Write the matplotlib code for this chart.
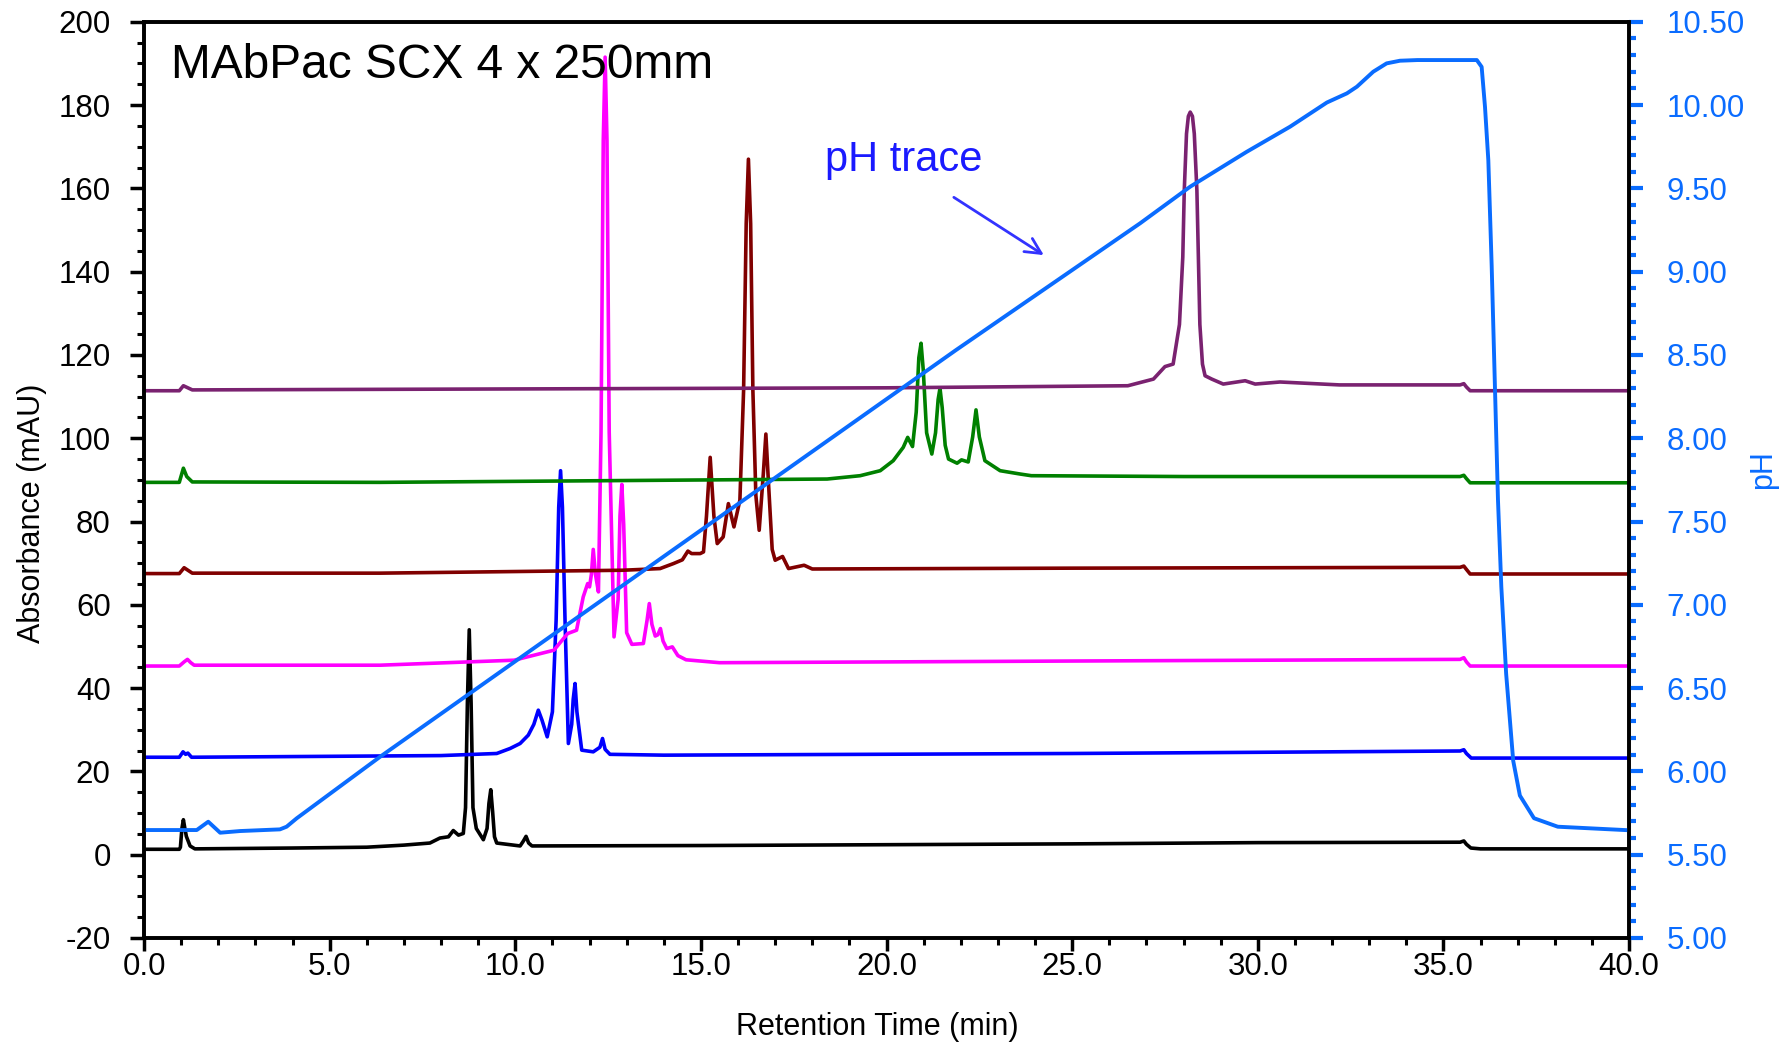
from matplotlib import pyplot as plt
from matplotlib.ticker import MultipleLocator, FormatStrFormatter

plt.rcParams['font.family'] = ['Liberation Sans', 'DejaVu Sans']
plt.rcParams['axes.unicode_minus'] = False

# retention time (min) / absorbance (mAU)
black_t = [0, 0.95, 0.98, 1.02, 1.06, 1.10, 1.14, 1.24, 1.37, 4.0, 6.0, 7.0, 7.7, 7.97, 8.2,
           8.33, 8.47, 8.6, 8.66, 8.71, 8.76, 8.81, 8.86, 8.95, 9.14, 9.24, 9.29, 9.34, 9.39,
           9.44, 9.5, 10.13, 10.22, 10.29, 10.36, 10.45, 15.0, 25.0, 30.0, 35.45, 35.55,
           35.62, 35.74, 36.0, 40.0]
black_v = [1.3, 1.3, 1.8, 6.3, 8.4, 6.3, 4.4, 2.1, 1.4, 1.6, 1.8, 2.3, 2.8, 4.0, 4.3,
           5.8, 4.7, 5.1, 11.3, 36.4, 54.0, 36.4, 11.3, 6.3, 3.6, 6.3, 12.3, 15.6, 10.3,
           4.3, 2.8, 2.1, 3.3, 4.4, 2.8, 2.1, 2.2, 2.6, 2.9, 3.0, 3.3,
           2.5, 1.6, 1.4, 1.4]

blue_t = [0, 0.95, 1.05, 1.12, 1.18, 1.28, 8.0, 9.5, 9.86, 10.13, 10.35, 10.5, 10.62, 10.72,
          10.86, 11.0, 11.1, 11.17, 11.22, 11.27, 11.34, 11.43, 11.52, 11.56, 11.61, 11.66,
          11.79, 12.1, 12.28, 12.35, 12.42, 12.55, 14.0, 25.0, 35.45, 35.55, 35.62, 35.75, 40.0]
blue_v = [23.4, 23.4, 24.7, 24.1, 24.4, 23.4, 23.8, 24.3, 25.5, 26.7, 28.7, 31.3, 34.7, 32.3,
          28.3, 34.3, 56.3, 83.4, 92.2, 83.4, 56.3, 26.7, 31.3, 37.3, 41.1, 34.3,
          25.1, 24.7, 25.8, 27.9, 25.3, 24.1, 23.9, 24.3, 24.9, 25.2, 24.3, 23.2, 23.2]

magenta_t = [0, 0.95, 1.08, 1.17, 1.26, 1.35, 6.36, 9.97, 11.04, 11.41, 11.65, 11.83, 11.95,
             12.0, 12.05, 12.10, 12.16, 12.24, 12.31, 12.37, 12.42, 12.47, 12.53, 12.66,
             12.77, 12.82, 12.87, 12.92, 13.0, 13.14, 13.45, 13.55, 13.61, 13.68, 13.77,
             13.84, 13.91, 13.98, 14.08, 14.23, 14.38, 14.6, 15.5, 25.0, 35.45, 35.55,
             35.62, 35.72, 40.0]
magenta_v = [45.3, 45.3, 46.3, 46.9, 46.1, 45.5, 45.5, 46.7, 49.1, 53.1, 53.9, 61.9, 65.1,
             64.3, 67.3, 73.3, 67.3, 63.1, 101.5, 171.5, 191.5, 171.5, 101.5, 52.3,
             61.3, 81.3, 88.9, 79.3, 53.3, 50.5, 50.7, 56.3, 60.3, 55.3, 52.5,
             52.8, 54.3, 51.3, 49.5, 49.9, 47.8, 46.8, 46.1, 46.5, 46.9, 47.3,
             46.3, 45.3, 45.3]

darkred_t = [0, 0.95, 1.08, 1.3, 6.35, 12.9, 13.9, 14.26, 14.5, 14.65, 14.75, 14.98, 15.07,
             15.15, 15.25, 15.35, 15.44, 15.6, 15.74, 15.89, 16.05, 16.15, 16.22, 16.28,
             16.34, 16.40, 16.48, 16.57, 16.68, 16.75, 16.82, 16.92, 17.0, 17.2, 17.36,
             17.78, 18.0, 25.0, 35.45, 35.55, 35.62, 35.72, 40.0]
darkred_v = [67.5, 67.5, 68.9, 67.6, 67.6, 68.3, 68.7, 69.9, 70.8, 72.9, 72.3, 72.3, 72.7,
             81.3, 95.4, 81.3, 74.7, 76.3, 84.3, 78.7, 85.1, 111.5, 151.5, 167.0,
             151.5, 111.5, 86.3, 77.9, 91.3, 101.0, 89.3, 73.3, 70.7, 71.6, 68.7,
             69.5, 68.6, 68.8, 69.0, 69.3, 68.5, 67.4, 67.4]

green_t = [0, 0.95, 1.06, 1.15, 1.3, 6.35, 18.4, 19.29, 19.83, 20.18, 20.45, 20.57, 20.70,
           20.80, 20.87, 20.93, 20.99, 21.08, 21.22, 21.32, 21.39, 21.44, 21.50, 21.58,
           21.67, 21.9, 22.02, 22.2, 22.32, 22.41, 22.50, 22.65, 23.06, 23.6, 23.9, 28.0,
           35.45, 35.55, 35.62, 35.72, 40.0]
green_v = [89.4, 89.4, 92.8, 90.8, 89.5, 89.4, 90.2, 91.0, 92.2, 94.6, 97.8, 100.2, 98.0,
           106.3, 119.3, 122.8, 116.3, 101.3, 96.2, 101.3, 109.3, 112.0, 107.3, 98.3,
           95.0, 94.0, 94.8, 94.3, 100.3, 106.8, 100.3, 94.6, 92.2, 91.4, 91.0, 90.8,
           90.8, 91.1, 90.3, 89.3, 89.3]

purple_t = [0, 0.95, 1.06, 1.3, 20.0, 26.5, 27.19, 27.5, 27.72, 27.89, 27.98, 28.02, 28.08,
            28.13, 28.18, 28.24, 28.29, 28.36, 28.40, 28.44, 28.51, 28.58, 28.76, 29.07,
            29.66, 29.93, 30.6, 32.2, 35.45, 35.55, 35.62, 35.72, 40.0]
purple_v = [111.4, 111.4, 112.6, 111.6, 112.1, 112.6, 114.2, 117.2, 117.8, 127.3, 143.5,
            159.5, 173.1, 177.3, 178.3, 177.3, 173.1, 159.5, 143.5, 127.3, 117.8, 115.0,
            114.2, 113.0, 113.8, 113.0, 113.5, 112.8, 112.8, 113.1, 112.3, 111.4, 111.4]

# pH trace (right axis)
ph_t = [0, 1.42, 1.73, 2.05, 2.59, 3.66, 3.84, 4.11, 6.36, 21.87, 26.83, 28.18, 29.70, 30.87,
        31.86, 32.40, 32.67, 33.11, 33.47, 33.83, 34.3, 35.90, 36.03, 36.12, 36.21, 36.30,
        36.47, 36.56, 36.69, 36.88, 37.06, 37.44, 38.08, 39.97]
ph_v = [5.648, 5.648, 5.698, 5.632, 5.642, 5.652, 5.668, 5.718, 6.088, 8.529, 9.290, 9.510,
        9.719, 9.870, 10.015, 10.070, 10.110, 10.200, 10.250, 10.266, 10.270, 10.270, 10.229,
        9.990, 9.668, 9.037, 7.629, 7.108, 6.586, 6.064, 5.855, 5.719, 5.668, 5.647]

traces = [(black_t, black_v, 'black'), (blue_t, blue_v, '#0000FF'),
          (magenta_t, magenta_v, '#FF00FF'), (darkred_t, darkred_v, '#800000'),
          (green_t, green_v, '#008000'), (purple_t, purple_v, '#7A2270')]
ph_color = '#0A6CFF'


def main():
    fig = plt.figure(figsize=(17.87, 10.45), dpi=100)
    ax = fig.add_axes([0.0806, 0.1024, 0.8310, 0.8768])

    for t, v, c in traces:
        ax.plot(t, v, color=c, lw=2.6)

    ax.set_xlim(0, 40)
    ax.set_ylim(-20, 200)
    ax.xaxis.set_major_locator(MultipleLocator(5))
    ax.xaxis.set_minor_locator(MultipleLocator(1))
    ax.xaxis.set_major_formatter(FormatStrFormatter('%.1f'))
    ax.yaxis.set_major_locator(MultipleLocator(20))
    ax.yaxis.set_minor_locator(MultipleLocator(5))
    ax.tick_params(axis='y', which='major', length=10, width=2.5, labelsize=22.5, pad=14)
    ax.tick_params(axis='y', which='minor', length=5, width=2.2)
    ax.tick_params(axis='x', which='major', length=9, width=2.5, labelsize=22.5, pad=1)
    ax.tick_params(axis='x', which='minor', length=5, width=2.2)
    for s in ax.spines.values():
        s.set_linewidth(2.6)

    ax.set_xlabel('Retention Time (min)', fontsize=22, va='center')
    ax.xaxis.set_label_coords(0.494, -0.097)
    ax.set_ylabel('Absorbance (mAU)', fontsize=22, va='center')
    ax.yaxis.set_label_coords(-0.0755, 0.4638)

    ax.text(0.73, 186.6, 'MAbPac SCX 4 x 250mm', fontsize=34.5, va='baseline')
    ax.text(20.47, 166.8, 'pH trace', fontsize=30, color='#1A1AFF', ha='center', va='center')
    ax.annotate('', xy=(24.30, 143.6), xytext=(21.75, 158.2),
                arrowprops=dict(arrowstyle='->', color='#3333FF', lw=2, mutation_scale=28))

    ax2 = ax.twinx()
    ax2.plot(ph_t, ph_v, color=ph_color, lw=2.8)
    ax2.set_ylim(5.0, 10.5)
    ax2.yaxis.set_major_locator(MultipleLocator(0.5))
    ax2.yaxis.set_minor_locator(MultipleLocator(0.1))
    ax2.yaxis.set_major_formatter(FormatStrFormatter('%.2f'))
    ax2.tick_params(axis='y', which='major', length=10, width=3, labelsize=22.5, pad=17,
                    colors=ph_color)
    ax2.tick_params(axis='y', which='minor', length=5, width=3, colors=ph_color)
    for s in ax2.spines.values():
        s.set_linewidth(2.6)
    ax2.set_ylabel('pH', fontsize=22, color=ph_color, rotation=90, va='center')
    ax2.yaxis.set_label_coords(1.0902, 0.5108)

    fig.savefig('out.png', dpi=100)


if __name__ == "__main__":
    main()
